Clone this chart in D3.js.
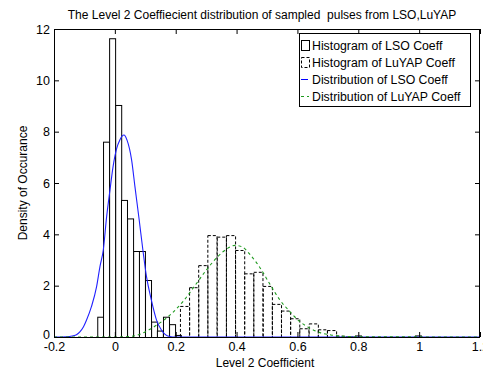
<!DOCTYPE html>
<html>
<head>
<meta charset="utf-8">
<script src="https://cdn.jsdelivr.net/npm/d3@7"></script>
<style>
  html, body { margin: 0; padding: 0; background: #ffffff; }
  svg { display: block; font-family: "Liberation Sans", Arial, sans-serif; }
</style>
</head>
<body>
<svg id="chart" width="483" height="371"></svg>
<script>
// Histogram of LSO coefficients (bin centres and densities)
const lsoBinWidth = 0.0197;
const lsoCenters = [-0.048, -0.029, -0.009, 0.011, 0.030, 0.050, 0.070, 0.089,
                    0.109, 0.129, 0.148, 0.168, 0.188, 0.207, 0.799, 0.996];
const lsoDensity = [0.79, 7.61, 11.64, 9.04, 5.34, 4.62, 3.35, 3.35,
                    2.22, 0.60, 0.25, 0.79, 0.50, 0.08, 0.06, 0.06];

// Histogram of LuYAP coefficients
const luyapBinWidth = 0.0302;
const luyapCenters = [0.229, 0.259, 0.289, 0.319, 0.350, 0.380, 0.410, 0.440,
                      0.470, 0.501, 0.531, 0.561, 0.591, 0.621, 0.652, 0.682,
                      0.712, 0.742, 0.772];
const luyapDensity = [1.21, 1.94, 2.80, 3.97, 3.91, 3.97, 3.39, 2.48,
                      2.54, 1.99, 1.29, 1.03, 0.73, 0.34, 0.53, 0.30,
                      0.27, 0.05, 0.02];

// Estimated density curve for LSO
const lsoCurveX = [-0.2, -0.16, -0.14, -0.125, -0.115, -0.103, -0.093, -0.077,
                   -0.06, -0.049, -0.038, -0.027, -0.016, -0.006, 0.006, 0.016,
                   0.03, 0.04, 0.055, 0.066, 0.08, 0.092, 0.104, 0.12, 0.137,
                   0.153, 0.165, 0.18, 0.2, 0.3, 0.5, 0.8, 1.2];
const lsoCurveY = [0, 0.01, 0.04, 0.1, 0.2, 0.4, 0.66, 1.18,
                   1.96, 2.74, 3.39, 4.69, 5.73, 6.63, 7.35, 7.67,
                   7.87, 7.67, 6.9, 5.86, 4.56, 3.4, 2.35, 1.44, 0.66,
                   0.27, 0.1, 0.02, 0, 0, 0, 0, 0];

// Estimated density curve for LuYAP
const luyapCurveX = [-0.2, 0.0, 0.05, 0.08, 0.115, 0.148, 0.19, 0.225, 0.26,
                     0.30, 0.34, 0.37, 0.395, 0.42, 0.445, 0.477, 0.51, 0.542,
                     0.575, 0.608, 0.641, 0.674, 0.71, 0.75, 0.8, 1.2];
const luyapCurveY = [0, 0, 0.02, 0.1, 0.3, 0.55, 0.95, 1.4, 1.95,
                     2.6, 3.15, 3.45, 3.57, 3.5, 3.2, 2.7, 2.05, 1.45,
                     0.99, 0.6, 0.34, 0.17, 0.08, 0.03, 0.01, 0];

// Axis ticks
const xTicks = [-0.2, 0, 0.2, 0.4, 0.6, 0.8, 1, 1.2];
const xTickLabels = ["-0.2", "0", "0.2", "0.4", "0.6", "0.8", "1", "1.2"];
const yTicks = [0, 2, 4, 6, 8, 10, 12];
const yTickLabels = ["0", "2", "4", "6", "8", "10", "12"];

const titleText = "The Level 2 Coeffiecient distribution of sampled  pulses from LSO,LuYAP";
const xLabel = "Level 2 Coefficient";
const yLabel = "Density of Occurance";
const legendLabels = ["Histogram of LSO Coeff", "Histogram of LuYAP Coeff",
                      "Distribution of LSO Coeff", "Distribution of LuYAP Coeff"];

const svg = d3.select("#chart");
const L = 54, R = 480, T = 29, B = 337;

const x = d3.scaleLinear().domain([-0.2, 1.2]).range([L, R]);
const y = d3.scaleLinear().domain([0, 12]).range([B, T]);

const plot = svg.append("g");

// LSO histogram bars (solid outline)
plot.selectAll("rect.lso")
  .data(lsoCenters.map((c, i) => ({ c, v: lsoDensity[i] })))
  .join("rect")
  .attr("class", "lso")
  .attr("x", d => x(d.c - lsoBinWidth / 2) + 0.5)
  .attr("width", d => x(d.c + lsoBinWidth / 2) - x(d.c - lsoBinWidth / 2))
  .attr("y", d => y(d.v) + 0.5)
  .attr("height", d => y(0) - y(d.v))
  .attr("fill", "#ffffff")
  .attr("stroke", "#000000")
  .attr("stroke-width", 1);

// LuYAP histogram bars (dashed outline)
plot.selectAll("rect.luyap")
  .data(luyapCenters.map((c, i) => ({ c, v: luyapDensity[i] })))
  .join("rect")
  .attr("class", "luyap")
  .attr("x", d => x(d.c - luyapBinWidth / 2) + 0.5)
  .attr("width", d => x(d.c + luyapBinWidth / 2) - x(d.c - luyapBinWidth / 2))
  .attr("y", d => y(d.v) + 0.5)
  .attr("height", d => y(0) - y(d.v))
  .attr("fill", "none")
  .attr("stroke", "#000000")
  .attr("stroke-width", 1)
  .attr("stroke-dasharray", "3,2");

const line = d3.line().x(d => x(d[0])).y(d => y(d[1])).curve(d3.curveMonotoneX);

plot.append("path")
  .datum(lsoCurveX.map((v, i) => [v, lsoCurveY[i]]))
  .attr("d", line)
  .attr("fill", "none")
  .attr("stroke", "#2020ff")
  .attr("stroke-width", 1.1);

plot.append("path")
  .datum(luyapCurveX.map((v, i) => [v, luyapCurveY[i]]))
  .attr("d", line)
  .attr("fill", "none")
  .attr("stroke", "#1e9a1e")
  .attr("stroke-width", 1.1)
  .attr("stroke-dasharray", "3,3");

// Axes: ticks pointing inward on all four sides, labels on bottom and left
const tickFont = "12.5px";

const xAxis = svg.append("g")
  .attr("transform", `translate(0,${B})`)
  .call(d3.axisBottom(x).tickValues(xTicks)
    .tickFormat((d, i) => xTickLabels[i])
    .tickSizeInner(-5).tickSizeOuter(0).tickPadding(5));
const xTop = svg.append("g")
  .attr("transform", `translate(0,${T})`)
  .call(d3.axisTop(x).tickValues(xTicks).tickFormat("").tickSizeInner(-5).tickSizeOuter(0));
const yAxis = svg.append("g")
  .attr("transform", `translate(${L},0)`)
  .call(d3.axisLeft(y).tickValues(yTicks)
    .tickFormat((d, i) => yTickLabels[i])
    .tickSizeInner(-5).tickSizeOuter(0).tickPadding(4));
const yRight = svg.append("g")
  .attr("transform", `translate(${R},0)`)
  .call(d3.axisRight(y).tickValues(yTicks).tickFormat("").tickSizeInner(-5).tickSizeOuter(0));

[xAxis, xTop, yAxis, yRight].forEach(g => {
  g.select(".domain").remove();
  g.selectAll("line").attr("stroke", "#000000");
  g.selectAll("text").attr("fill", "#000000").style("font-size", tickFont)
    .style("font-family", "'Liberation Sans', Arial, sans-serif");
});
// the lowest y label sits a little above its tick so it clears the x labels
yAxis.selectAll(".tick text").filter(d => d === 0).attr("dy", "0.1em");

// Frame
svg.append("rect")
  .attr("x", L + 0.5).attr("y", T + 0.5)
  .attr("width", R - L - 1).attr("height", B - T)
  .attr("fill", "none").attr("stroke", "#000000").attr("stroke-width", 1);

// Title and axis labels
svg.append("text")
  .attr("x", 262).attr("y", 19)
  .attr("text-anchor", "middle")
  .style("font-size", "12px")
  .style("white-space", "pre")
  .text(titleText);

svg.append("text")
  .attr("x", 265).attr("y", 367)
  .attr("text-anchor", "middle")
  .style("font-size", "12px")
  .text(xLabel);

svg.append("text")
  .attr("transform", "translate(27,183) rotate(-90)")
  .attr("text-anchor", "middle")
  .style("font-size", "12px")
  .text(yLabel);

// Legend
const lg = svg.append("g");
lg.append("rect")
  .attr("x", 299.5).attr("y", 33.5)
  .attr("width", 171).attr("height", 73)
  .attr("fill", "#ffffff").attr("stroke", "#000000");

const rowY = [50, 67, 84, 101];
lg.append("rect")
  .attr("x", 301.5).attr("y", rowY[0] - 9.5)
  .attr("width", 8).attr("height", 10)
  .attr("fill", "none").attr("stroke", "#000000");
lg.append("rect")
  .attr("x", 301.5).attr("y", rowY[1] - 9.5)
  .attr("width", 8).attr("height", 10)
  .attr("fill", "none").attr("stroke", "#000000").attr("stroke-dasharray", "3,2");
lg.append("line")
  .attr("x1", 301).attr("x2", 308).attr("y1", rowY[2] - 4.5).attr("y2", rowY[2] - 4.5)
  .attr("stroke", "#0000ff");
lg.append("line")
  .attr("x1", 301).attr("x2", 309).attr("y1", rowY[3] - 4.5).attr("y2", rowY[3] - 4.5)
  .attr("stroke", "#1e9a1e").attr("stroke-dasharray", "3,3");

lg.selectAll("text.leg")
  .data(legendLabels)
  .join("text")
  .attr("class", "leg")
  .attr("x", 312)
  .attr("y", (d, i) => rowY[i])
  .style("font-size", "12.3px")
  .text(d => d);
</script>
</body>
</html>
